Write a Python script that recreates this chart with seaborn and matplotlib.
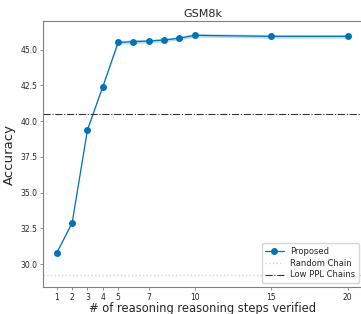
import seaborn as sns
import matplotlib.pyplot as plt
import pandas as pd

# steps verified vs accuracy
steps = [1, 2, 3, 4, 5, 6, 7, 8, 9, 10, 15, 20]
accuracy = [30.8, 32.9, 39.4, 42.4, 45.5, 45.56, 45.6, 45.67, 45.8, 46.0, 45.93, 45.93]
acc_low = [30.75, 32.85, 39.35, 42.35, 45.37, 45.42, 45.47, 45.54, 45.67, 45.87, 45.8, 45.8]
acc_high = [30.85, 32.95, 39.45, 42.45, 45.63, 45.7, 45.73, 45.8, 45.93, 46.13, 46.06, 46.06]
random_chain = 29.25
low_ppl = 40.5
xticks = [1, 2, 3, 4, 5, 7, 10, 15, 20]

df = pd.DataFrame({"steps": steps, "acc": accuracy})

sns.set_style("ticks")
fig = plt.figure(figsize=(3.61, 3.14), dpi=100)
ax = fig.add_axes([0.119, 0.086, 0.886, 0.847])

blue = "#0173b2"
ax.fill_between(steps, acc_low, acc_high, color=blue, alpha=0.25, lw=0)
sns.lineplot(data=df, x="steps", y="acc", marker="o", markersize=5, color=blue,
             lw=0.9, markeredgewidth=0, label="Proposed", ax=ax)
ax.axhline(random_chain, color="lightgray", ls=":", lw=1, label="Random Chain")
ax.axhline(low_ppl, color="#333333", ls="-.", lw=0.8, label="Low PPL Chains")

ax.set_xlim(0.09, 21)
ax.set_ylim(28.4, 47.0)
ax.set_xticks(xticks)
ax.set_xticklabels([str(t) for t in xticks])
ax.tick_params(labelsize=5.5, length=2.5, width=0.6, color="gray", pad=1.5)

ax.set_title("GSM8k", fontsize=8, pad=3)
ax.set_xlabel("# of reasoning reasoning steps verified", fontsize=8.3, labelpad=0)
ax.set_ylabel("Accuracy", fontsize=9.5, labelpad=3)

for s in ["left", "bottom", "top"]:
    ax.spines[s].set_color("gray")
    ax.spines[s].set_linewidth(0.8)
ax.spines["top"].set_visible(True)
ax.spines["right"].set_visible(False)

ax.legend(loc="lower right", fontsize=6, frameon=True, handlelength=2.2,
          borderpad=0.4, labelspacing=0.35)

fig.savefig("out.png", dpi=100)
